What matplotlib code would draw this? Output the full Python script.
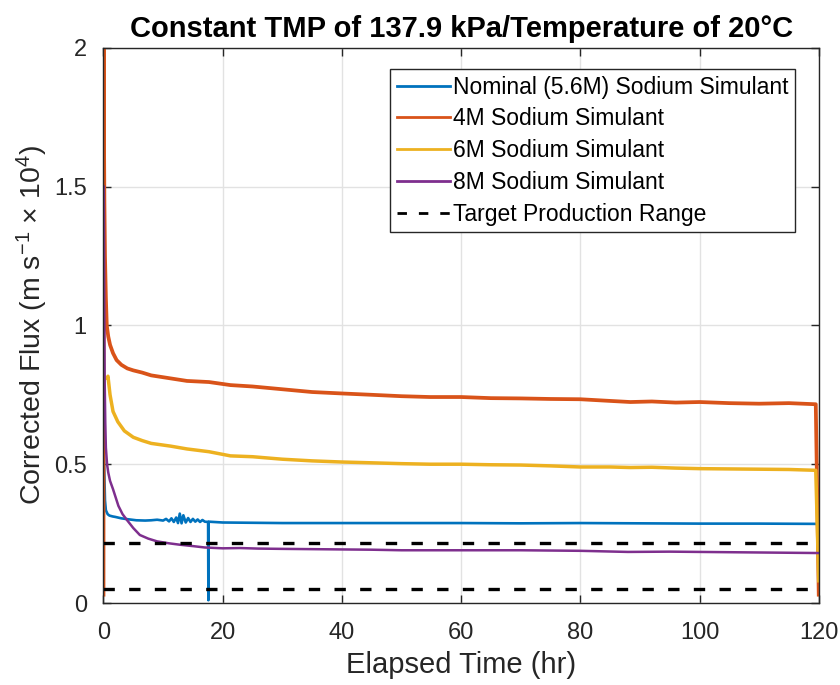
import numpy as np
import matplotlib.pyplot as plt

plt.rcParams['font.family'] = ['Liberation Sans', 'DejaVu Sans']
plt.rcParams['mathtext.fontset'] = 'custom'
plt.rcParams['mathtext.rm'] = 'Liberation Sans'
plt.rcParams['mathtext.it'] = 'Liberation Sans:italic'
plt.rcParams['mathtext.default'] = 'regular'

# values (time in hr, flux x 1e4)
nominal_t = [0, 0.25, 0.4, 0.7, 1, 1.5, 2, 3, 4, 5.5, 7, 8, 9, 10, 10.5, 11, 11.4,
             11.8, 12.2, 12.5, 12.8, 13.1, 13.4, 13.8, 14.2, 14.6, 15, 15.4, 15.8,
             16.2, 16.6, 17, 17.55, 17.6, 17.65, 20, 25, 30, 40, 50, 60, 70, 80, 90,
             100, 110, 120]
nominal_v = [0.6, 0.37, 0.334, 0.32, 0.315, 0.312, 0.31, 0.305, 0.302, 0.298, 0.297,
             0.298, 0.3, 0.297, 0.303, 0.294, 0.305, 0.292, 0.308, 0.288, 0.322, 0.287,
             0.316, 0.29, 0.306, 0.292, 0.303, 0.293, 0.301, 0.292, 0.299, 0.293,
             0.292, 0.01, 0.293, 0.29, 0.289, 0.288, 0.288, 0.288, 0.288, 0.287,
             0.288, 0.287, 0.286, 0.286, 0.285]

m4_t = [0, 0.03, 0.08, 0.15, 0.25, 0.4, 0.55, 0.8, 1.1, 1.6, 2.2, 3.0, 4, 5, 6.5, 8,
        11, 14, 17.7, 21.3, 25, 30, 35, 39.85, 45, 50, 54.8, 60, 65, 70, 75, 80, 85,
        88.4, 92, 96, 100, 105, 110, 115, 119.5, 120]
m4_v = [0.03, 2.0, 1.7, 1.45, 1.25, 1.1, 1.0, 0.96, 0.93, 0.9, 0.875, 0.858, 0.845,
        0.838, 0.83, 0.82, 0.81, 0.8, 0.796, 0.785, 0.78, 0.77, 0.76, 0.755, 0.75,
        0.745, 0.742, 0.742, 0.738, 0.737, 0.735, 0.734, 0.728, 0.724, 0.726, 0.722,
        0.724, 0.72, 0.718, 0.72, 0.716, 0.03]

m6_t = [0.6, 0.75, 1.1, 1.6, 2.4, 3.5, 5, 6.5, 8, 11.3, 14, 17.7, 21.3, 25, 30,
        35, 39.85, 45, 50, 54.8, 60, 65, 70, 75, 80, 85, 88.4, 92, 96, 100, 105, 110,
        115, 119.5, 120]
m6_v = [0.81, 0.817, 0.75, 0.69, 0.653, 0.62, 0.597, 0.585, 0.575, 0.565, 0.555,
        0.545, 0.53, 0.527, 0.518, 0.512, 0.508, 0.505, 0.502, 0.5, 0.5, 0.498, 0.497,
        0.494, 0.49, 0.49, 0.488, 0.489, 0.486, 0.484, 0.483, 0.482, 0.481, 0.478, 0.08]

m8_t = [0.05, 0.12, 0.2, 0.3, 0.4, 0.6, 0.8, 1.1, 1.6, 2.5, 3.2, 3.9, 5, 6.1, 7.5, 9,
        11, 12.8, 15, 17, 20, 22.9, 26, 30, 35, 40, 45, 50, 55, 60, 70, 80, 88, 95,
        100, 110, 120]
m8_v = [1.5, 1.1, 0.8, 0.65, 0.56, 0.5, 0.47, 0.44, 0.41, 0.35, 0.32, 0.3, 0.27, 0.245,
        0.232, 0.222, 0.215, 0.21, 0.205, 0.2, 0.197, 0.198, 0.196, 0.195, 0.194, 0.193,
        0.192, 0.19, 0.19, 0.19, 0.19, 0.188, 0.184, 0.185, 0.184, 0.182, 0.18]

target_range = [0.049, 0.217]

labels = ["Nominal (5.6M) Sodium Simulant", "4M Sodium Simulant",
          "6M Sodium Simulant", "8M Sodium Simulant"]
colors = ["#0072BD", "#D95319", "#EDB120", "#7E2F8E"]

fig = plt.figure(figsize=(8.4, 6.85), dpi=100)
ax = fig.add_axes([0.1232, 0.1197, 0.8515, 0.8105])

series = [(nominal_t, nominal_v), (m4_t, m4_v), (m6_t, m6_v), (m8_t, m8_v)]
widths = [1.9, 2.7, 2.5, 1.8]
for (t, v), lab, c, w in zip(series, labels, colors, widths):
    ax.plot(t, v, color=c, lw=w, label=lab)

for i, y in enumerate(target_range):
    ax.plot([0, 120], [y, y], color='k', lw=2.4, ls=(0, (3.4, 4.3)),
            label="Target Production Range" if i == 0 else None)

ax.set_xlim(0, 120)
ax.set_ylim(0, 2)
ax.set_xticks(np.arange(0, 121, 20))
ax.set_yticks([0, 0.5, 1, 1.5, 2])
ax.set_yticklabels(['0', '0.5', '1', '1.5', '2'])
ax.grid(True, color='#e2e2e2', lw=1)
ax.set_axisbelow(True)
ax.tick_params(direction='in', length=6, width=1, colors='#262626', labelsize=17,
               top=True, right=True)
ax.tick_params(axis='x', pad=14)
ax.tick_params(axis='y', pad=12)
for s in ax.spines.values():
    s.set_color('#262626')
    s.set_linewidth(1)

ax.set_xlabel("Elapsed Time (hr)", fontsize=21, color='#262626', labelpad=5)
ax.set_ylabel(r"Corrected Flux (m s$^{-1}$ $\times$ 10$^{4}$)", fontsize=20.5,
              color='#262626', labelpad=3)
ax.set_title("Constant TMP of 137.9 kPa/Temperature of 20°C", fontsize=21,
             fontweight='bold', pad=8)

leg = ax.legend(loc='upper right', bbox_to_anchor=(0.967, 0.962), borderaxespad=0,
                fontsize=16.5, fancybox=False, framealpha=1, edgecolor='#262626',
                handlelength=2.3, handletextpad=0.12, labelspacing=0.38,
                borderpad=0.3)
leg.get_frame().set_linewidth(1)
for line in leg.get_lines():
    line.set_linewidth(2)

fig.savefig("out.png", dpi=100)
